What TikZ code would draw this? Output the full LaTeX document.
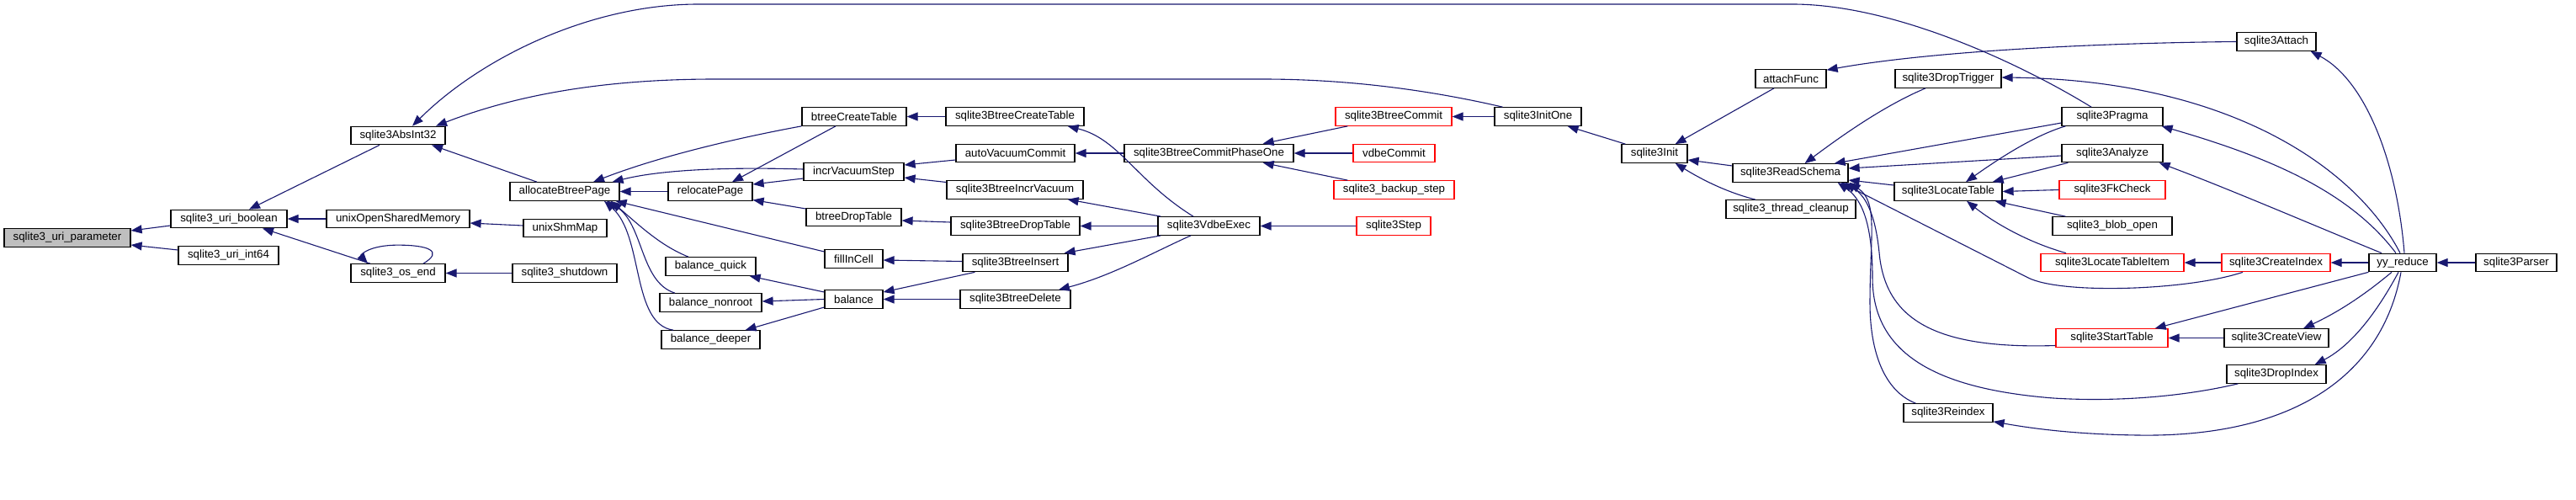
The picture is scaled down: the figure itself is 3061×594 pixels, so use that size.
\documentclass[tikz,border=0pt]{standalone}
\usepackage{fontspec}
\setmainfont{Liberation Sans}
\usetikzlibrary{arrows.meta,calc}
\definecolor{edgecol}{HTML}{191970}
\definecolor{boxgray}{HTML}{BFBFBF}
\tikzset{
  fn/.style={draw=black, line width=1.2pt, rectangle, inner sep=0pt, minimum height=21.5pt,
    font=\fontsize{13.3pt}{16pt}\selectfont, text=black},
  redfn/.style={fn, draw=red},
  cur/.style={fn, fill=boxgray},
  e/.style={draw=edgecol, line width=1.1pt, -{Triangle[length=13pt,width=10pt]}},
}
\begin{document}
\begin{tikzpicture}[x=1pt,y=-1pt]
\path[use as bounding box, fill=white] (0,0) rectangle (3061,594);

% nodes
\node[cur, minimum width=150pt] (up) at (80,282.5) {sqlite3\_uri\_parameter};
\node[fn, minimum width=138pt] (ub) at (272,260) {sqlite3\_uri\_boolean};
\node[fn, minimum width=119pt] (ui) at (271.5,303.5) {sqlite3\_uri\_int64};
\node[fn, minimum width=112pt] (abs) at (473,161) {sqlite3AbsInt32};
\node[fn, minimum width=170pt] (uosm) at (473,260) {unixOpenSharedMemory};
\node[fn, minimum width=112pt] (osend) at (473,324.5) {sqlite3\_os\_end};
\node[fn, minimum width=130pt] (abp) at (671,227.5) {allocateBtreePage};
\node[fn, minimum width=99pt] (shm) at (671.5,271) {unixShmMap};
\node[fn, minimum width=124pt] (shut) at (671,324.5) {sqlite3\_shutdown};
\node[fn, minimum width=100pt] (reloc) at (844,227.5) {relocatePage};
\node[fn, minimum width=107pt] (bq) at (844.5,316.5) {balance\_quick};
\node[fn, minimum width=121pt] (bn) at (844.5,359.5) {balance\_nonroot};
\node[fn, minimum width=117pt] (bd) at (844.5,403.5) {balance\_deeper};
\node[fn, minimum width=124pt] (bct) at (1015,138.5) {btreeCreateTable};
\node[fn, minimum width=119pt] (ivs) at (1014.5,204) {incrVacuumStep};
\node[fn, minimum width=113pt] (bdt) at (1014.5,258) {btreeDropTable};
\node[fn, minimum width=69pt] (fic) at (1014.5,307.5) {fillInCell};
\node[fn, minimum width=69pt] (bal) at (1014.5,355.5) {balance};
\node[fn, minimum width=164pt] (sbct) at (1206,138.5) {sqlite3BtreeCreateTable};
\node[fn, minimum width=141pt] (avc) at (1206.5,182) {autoVacuumCommit};
\node[fn, minimum width=162pt] (sbiv) at (1206,225.5) {sqlite3BtreeIncrVacuum};
\node[fn, minimum width=153pt] (sbdt) at (1206.5,268.5) {sqlite3BtreeDropTable};
\node[fn, minimum width=125pt] (sbi) at (1206.5,312) {sqlite3BtreeInsert};
\node[fn, minimum width=131pt] (sbd) at (1206.5,355.5) {sqlite3BtreeDelete};
\node[fn, minimum width=201pt] (cpo) at (1436.5,182) {sqlite3BtreeCommitPhaseOne};
\node[fn, minimum width=121pt] (vdbe) at (1436.5,268.5) {sqlite3VdbeExec};
\node[redfn, minimum width=138pt] (bcommit) at (1656,138.5) {sqlite3BtreeCommit};
\node[redfn, minimum width=97pt] (vcommit) at (1656.5,182) {vdbeCommit};
\node[redfn, minimum width=143pt] (backup) at (1656.5,225.5) {sqlite3\_backup\_step};
\node[redfn, minimum width=88pt] (step) at (1656,268.5) {sqlite3Step};
\node[fn, minimum width=103pt] (initone) at (1827.5,138.5) {sqlite3InitOne};
\node[fn, minimum width=78pt] (init) at (1966,182.5) {sqlite3Init};
\node[fn, minimum width=84pt] (attachf) at (2128,93.5) {attachFunc};
\node[fn, minimum width=137pt] (rs) at (2127.5,205.5) {sqlite3ReadSchema};
\node[fn, minimum width=154pt] (tc) at (2128,248.5) {sqlite3\_thread\_cleanup};
\node[fn, minimum width=126pt] (droptrig) at (2315,93.5) {sqlite3DropTrigger};
\node[fn, minimum width=128pt] (lt) at (2315,227.5) {sqlite3LocateTable};
\node[fn, minimum width=106pt] (reindex) at (2315,490.5) {sqlite3Reindex};
\node[fn, minimum width=120pt] (pragma) at (2510,138.5) {sqlite3Pragma};
\node[fn, minimum width=120pt] (analyze) at (2510,182) {sqlite3Analyze};
\node[redfn, minimum width=126pt] (fk) at (2510,225.5) {sqlite3FkCheck};
\node[fn, minimum width=142pt] (blob) at (2510,268.5) {sqlite3\_blob\_open};
\node[redfn, minimum width=170pt] (lti) at (2510,312) {sqlite3LocateTableItem};
\node[redfn, minimum width=133pt] (st) at (2509.5,401.5) {sqlite3StartTable};
\node[fn, minimum width=94pt] (attach) at (2705,49.5) {sqlite3Attach};
\node[redfn, minimum width=129pt] (ci) at (2704.5,312) {sqlite3CreateIndex};
\node[fn, minimum width=124pt] (cv) at (2705,401.5) {sqlite3CreateView};
\node[fn, minimum width=118pt] (di) at (2705,444.5) {sqlite3DropIndex};
\node[fn, minimum width=80pt] (yy) at (2855,312) {yy\_reduce};
\node[fn, minimum width=96pt] (parser) at (2990,312) {sqlite3Parser};

% edges (caller -> callee, arrow at callee)
\draw[e] ($(ub.west)+(0,8)$) -- ($(up.east)+(0,-8.5)$);
\draw[e] ($(ui.west)+(0,-6.5)$) -- ($(up.east)+(0,8.5)$);
\draw[e] ($(abs.south)+(-22,0)$) -- ($(ub.north)+(24,0)$);
\draw[e] (uosm.west) -- (ub.east);
\draw[e] ($(osend.north)+(-33,0)$) -- ($(ub.south)+(40,0)$);
\draw[e] ($(osend.north)+(30,0)$) .. controls ($(osend.north)+(55,-15)$) and ($(osend.north)+(35,-22)$) .. ($(osend.north)+(0,-22)$)
   .. controls ($(osend.north)+(-35,-22)$) and ($(osend.north)+(-45,-10)$) .. ($(osend.north)+(-36,0)$);
\draw[e] ($(abp.north)+(-33,0)$) -- ($(abs.south)+(40,0)$);
\draw[e] ($(pragma.north)+(-25,0)$) .. controls (2400,75) and (2250,5) .. (2130,5) -- (830,5)
   .. controls (700,5) and (570,70) .. ($(abs.north)+(17,0)$);
\draw[e] ($(initone.north)+(-42,0)$) .. controls (1720,112) and (1620,94) .. (1500,94) -- (850,94)
   .. controls (700,94) and (600,118) .. ($(abs.north)+(45,0)$);
\draw[e] ($(shm.west)+(0,-3)$) -- ($(uosm.east)+(0,5)$);
\draw[e] (shut.west) -- (osend.east);
\draw[e] (bct.south west) .. controls (870,165) and (780,187) .. ($(abp.north)+(34,0)$);
\draw[e] ($(ivs.west)+(0,-3)$) .. controls (850,198) and (780,203) .. ($(abp.north east)+(-9,0)$);
\draw[e] (reloc.west) -- (abp.east);
\draw[e] ($(fic.west)+(0,-8.5)$) -- ($(abp.south east)+(-5,0)$);
\draw[e] ($(bq.north)+(-26.5,0)$) .. controls (785,292) and (760,268) .. ($(abp.south)+(55,0)$);
\draw[e] ($(bn.north)+(-42.5,0)$) .. controls (760,335) and (765,265) .. ($(abp.south)+(50,0)$);
\draw[e] ($(bd.north)+(-44.5,0)$) .. controls (750,385) and (765,280) .. ($(abp.south)+(47,0)$);
\draw[e] ($(bct.south)+(-22,0)$) -- ($(reloc.north)+(26,0)$);
\draw[e] ($(ivs.west)+(0,8)$) -- ($(reloc.east)+(0,-8.5)$);
\draw[e] ($(bdt.west)+(0,-10)$) -- ($(reloc.east)+(0,10)$);
\draw[e] ($(bal.west)+(0,-8.5)$) -- ($(bq.south east)+(-8,0)$);
\draw[e] (bal.west) -- ($(bn.east)+(0,-1.5)$);
\draw[e] ($(bal.west)+(0,9.5)$) -- ($(bd.north east)+(-18,0)$);
\draw[e] (sbct.west) -- (bct.east);
\draw[e] ($(avc.west)+(0,8)$) -- ($(ivs.east)+(0,-8)$);
\draw[e] ($(sbiv.west)+(0,-9)$) -- ($(ivs.east)+(0,7)$);
\draw[e] ($(sbdt.west)+(0,-4.5)$) -- ($(bdt.east)+(0,4)$);
\draw[e] ($(sbi.west)+(0,-1.5)$) -- ($(fic.east)+(0,1.5)$);
\draw[e] ($(sbi.south west)+(15,0)$) -- ($(bal.east)+(0,-8.5)$);
\draw[e] (sbd.west) -- (bal.east);
\draw[e] (cpo.west) -- (avc.east);
\draw[e] ($(vdbe.north)+(-18.5,0)$) .. controls (1350,215) and (1330,165) .. ($(sbct.south east)+(-20,0)$);
\draw[e] ($(vdbe.north west)+(4,0)$) -- ($(sbiv.south east)+(-19,0)$);
\draw[e] (vdbe.west) -- (sbdt.east);
\draw[e] ($(vdbe.south west)+(4,0)$) -- ($(sbi.north east)+(-5,0)$);
\draw[e] ($(vdbe.south)+(-21.5,0)$) .. controls (1370,300) and (1320,328) .. ($(sbd.north)+(51.5,0)$);
\draw[e] ($(bcommit.south west)+(15,0)$) -- ($(cpo.north east)+(-37,0)$);
\draw[e] (vcommit.west) -- (cpo.east);
\draw[e] ($(backup.north west)+(17,0)$) -- ($(cpo.south east)+(-37,0)$);
\draw[e] (step.west) -- (vdbe.east);
\draw[e] (initone.west) -- (bcommit.east);
\draw[e] ($(init.north west)+(5,0)$) -- ($(initone.south east)+(-17,0)$);
\draw[e] ($(attachf.south)+(-20,0)$) -- ($(init.north east)+(-15,0)$);
\draw[e] ($(rs.west)+(0,-8.5)$) -- ($(init.east)+(0,7.5)$);
\draw[e] ($(tc.north)+(-42,0)$) .. controls (2050,228) and (2020,212) .. ($(init.south east)+(-15,0)$);
\draw[e] (attach.west) .. controls (2500,51) and (2300,60) .. ($(attachf.north east)+(0,1)$);
\draw[e] ($(droptrig.south)+(-27,0)$) .. controls (2240,125) and (2190,160) .. ($(rs.north)+(17,0)$);
\draw[e] ($(pragma.west)+(0,7.5)$) -- ($(rs.north east)+(-17,0)$);
\draw[e] ($(analyze.west)+(0,3)$) -- ($(rs.east)+(0,-5.5)$);
\draw[e] ($(lt.west)+(0,-7.5)$) -- ($(rs.east)+(0,8.5)$);
\draw[e] ($(ci.south)+(-39.5,0)$) .. controls (2600,345) and (2450,350) .. (2410,330) -- ($(rs.south east)+(-9,0)$);
\draw[e] ($(st.west)+(0,9)$) .. controls (2300,415) and (2240,380) .. (2233,300)
   .. controls (2228,250) and (2215,232) .. ($(rs.south east)+(-4,0)$);
\draw[e] ($(di.south west)+(14,0)$) .. controls (2600,470) and (2520,478) .. (2440,473)
   .. controls (2300,462) and (2225,420) .. (2225,330) .. controls (2225,260) and (2210,235) .. ($(rs.south east)+(-13,0)$);
\draw[e] ($(reindex.north west)+(15,0)$) .. controls (2240,465) and (2222,420) .. (2222,360)
   .. controls (2222,280) and (2232,240) .. ($(rs.south east)+(1,0)$);
\draw[e] ($(pragma.south west)+(5,0)$) .. controls (2420,160) and (2380,185) .. ($(lt.north)+(21,0)$);
\draw[e] ($(analyze.south west)+(8,0)$) -- ($(lt.north east)+(-12,0)$);
\draw[e] (fk.west) -- (lt.east);
\draw[e] ($(blob.north west)+(16,0)$) -- ($(lt.south east)+(-9,0)$);
\draw[e] ($(lti.north)+(-55,0)$) .. controls (2410,288) and (2370,265) .. ($(lt.south)+(22,0)$);
\draw[e] ($(yy.north)+(-3,0)$) .. controls (2800,200) and (2650,95) .. ($(droptrig.east)+(0,-1.5)$);
\draw[e] ($(yy.north)+(2,0)$) .. controls (2848,190) and (2810,95) .. ($(attach.south east)+(-7,0)$);
\draw[e] ($(yy.north)+(-8,0)$) .. controls (2790,225) and (2690,185) .. ($(pragma.south east)+(-2,0)$);
\draw[e] ($(yy.north)+(-25,0)$) .. controls (2750,268) and (2650,225) .. ($(analyze.south east)+(-5,0)$);
\draw[e] (ci.west) -- (lti.east);
\draw[e] (yy.west) -- (ci.east);
\draw[e] (yy.south west) -- ($(st.north east)+(-16,0)$);
\draw[e] (cv.west) -- (st.east);
\draw[e] ($(yy.south)+(-13,0)$) .. controls (2810,350) and (2780,370) .. ($(cv.north)+(32,0)$);
\draw[e] ($(yy.south)+(-5,0)$) .. controls (2825,370) and (2795,410) .. ($(di.north east)+(-14,0)$);
\draw[e] ($(yy.south)+(-2,0)$) .. controls (2830,450) and (2720,520) .. (2540,517)
   .. controls (2470,516) and (2420,510) .. ($(reindex.south east)+(0,-1)$);
\draw[e] (parser.west) -- (yy.east);
\end{tikzpicture}
\end{document}
